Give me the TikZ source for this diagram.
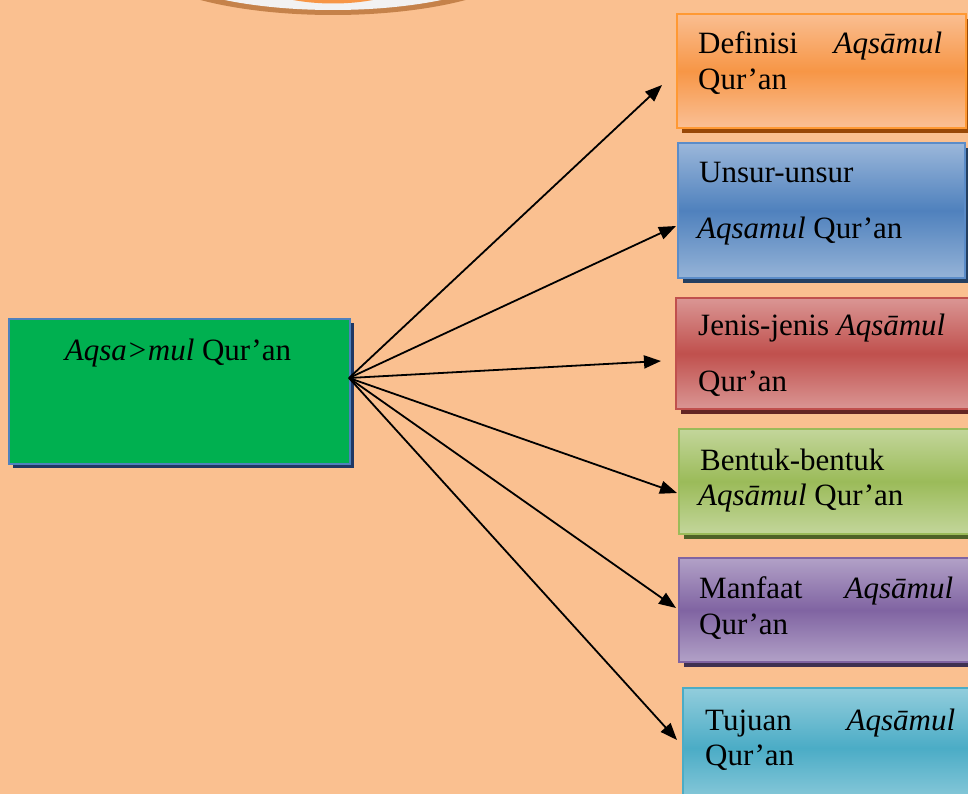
\documentclass[tikz,border=0pt]{standalone}
\usepackage{fontspec}
\setmainfont{Liberation Serif}
\usetikzlibrary{shadows,arrows.meta}

\definecolor{pagebg}{HTML}{FAC090}
\definecolor{ovalrim}{HTML}{C5824A}
\definecolor{ovalring}{HTML}{F2F2F2}
\definecolor{ovalcore}{HTML}{F79646}

\tikzset{
  topicbox/.style={rectangle, inner sep=0pt, line width=2pt, anchor=north west},
  orangebox/.style={topicbox, draw=orange!80!white, top color={rgb,255:red,250;green,190;blue,145},
    bottom color={rgb,255:red,250;green,192;blue,150}, middle color={rgb,255:red,247;green,150;blue,70},
    drop shadow={shadow xshift=5pt, shadow yshift=-5pt, fill={rgb,255:red,152;green,72;blue,7}, opacity=1}},
  bluebox/.style={topicbox, draw={rgb,255:red,91;green,140;blue,200}, top color={rgb,255:red,155;green,183;blue,218},
    bottom color={rgb,255:red,149;green,179;blue,215}, middle color={rgb,255:red,79;green,129;blue,189},
    drop shadow={shadow xshift=5pt, shadow yshift=-5pt, fill={rgb,255:red,36;green,63;blue,96}, opacity=1}},
  redbox/.style={topicbox, draw={rgb,255:red,192;green,80;blue,77}, top color={rgb,255:red,218;green,150;blue,148},
    bottom color={rgb,255:red,218;green,150;blue,148}, middle color={rgb,255:red,192;green,80;blue,77},
    drop shadow={shadow xshift=5pt, shadow yshift=-5pt, fill={rgb,255:red,99;green,37;blue,35}, opacity=1}},
  greenbox/.style={topicbox, draw={rgb,255:red,155;green,187;blue,89}, top color={rgb,255:red,195;green,214;blue,155},
    bottom color={rgb,255:red,195;green,214;blue,155}, middle color={rgb,255:red,155;green,187;blue,89},
    drop shadow={shadow xshift=5pt, shadow yshift=-5pt, fill={rgb,255:red,79;green,98;blue,40}, opacity=1}},
  purplebox/.style={topicbox, draw={rgb,255:red,128;green,100;blue,162}, top color={rgb,255:red,178;green,161;blue,199},
    bottom color={rgb,255:red,178;green,161;blue,199}, middle color={rgb,255:red,128;green,100;blue,162},
    drop shadow={shadow xshift=5pt, shadow yshift=-5pt, fill={rgb,255:red,63;green,49;blue,81}, opacity=1}},
  cyanbox/.style={topicbox, draw={rgb,255:red,75;green,172;blue,198}, top color={rgb,255:red,146;green,205;blue,220},
    bottom color={rgb,255:red,146;green,205;blue,220}, middle color={rgb,255:red,75;green,172;blue,198},
    drop shadow={shadow xshift=5pt, shadow yshift=-5pt, fill={rgb,255:red,32;green,88;blue,103}, opacity=1}},
  mainbox/.style={topicbox, fill={rgb,255:red,0;green,176;blue,80}, draw={rgb,255:red,79;green,129;blue,189},
    drop shadow={shadow xshift=4pt, shadow yshift=-4pt, fill={rgb,255:red,31;green,56;blue,100}, opacity=1}},
  line/.style={inner sep=0pt, anchor=base west},
  link/.style={line width=1.8pt, -{Triangle[length=17pt, width=13pt]}}
}

\begin{document}
\begin{tikzpicture}[x=1pt, y=-1pt, font=\fontsize{31}{37}\selectfont]
  \useasboundingbox (0,0) rectangle (968,794);
  \begin{scope}
    \clip (0,0) rectangle (968,794);
    \fill[pagebg] (0,0) rectangle (968,794);

    % title oval peeking in at the top edge
    \fill[ovalrim]  (333,-46) ellipse [x radius=202, y radius=61];
    \fill[ovalring] (333,-46) ellipse [x radius=190, y radius=56];
    \fill[ovalcore] (333,-46) ellipse [x radius=108, y radius=49.5];

    % central topic
    \node[mainbox, minimum width=341pt, minimum height=145pt] (main) at (8,318) {};
    \node[inner sep=0pt, anchor=base] (maintext) at (178,360) {\textit{Aqsa>mul} Qur’an};

    % sub-topic boxes
    \node[orangebox, minimum width=289pt, minimum height=114pt] (def) at (676,13) {};
    \node[bluebox,   minimum width=287pt, minimum height=135pt] (uns) at (677,142) {};
    \node[redbox,    minimum width=300pt, minimum height=111pt] (jen) at (675,297) {};
    \node[greenbox,  minimum width=300pt, minimum height=105pt] (ben) at (678,428) {};
    \node[purplebox, minimum width=300pt, minimum height=104pt] (man) at (678,557) {};
    \node[cyanbox,   minimum width=300pt, minimum height=120pt] (tuj) at (682,687) {};

    % box texts
    \node[line] (def1) at (698,54)  {\makebox[244pt][s]{Definisi\hfill\textit{Aqsāmul}}};
    \node[line] (def2) at (698,90)  {Qur’an};
    \node[line] (uns1) at (699,183) {Unsur-unsur};
    \node[line] (uns2) at (697,238) {\textit{Aqsamul} Qur’an};
    \node[line] (jen1) at (698,335) {Jenis-jenis \textit{Aqsāmul}};
    \node[line] (jen2) at (698,391) {Qur’an};
    \node[line] (ben1) at (700,470) {Bentuk-bentuk};
    \node[line] (ben2) at (698,505) {\textit{Aqsāmul} Qur’an};
    \node[line] (man1) at (699,598) {\makebox[254pt][s]{Manfaat\hfill\textit{Aqsāmul}}};
    \node[line] (man2) at (699,634) {Qur’an};
    \node[line] (tuj1) at (705,730) {\makebox[250pt][s]{Tujuan\hfill\textit{Aqsāmul}}};
    \node[line] (tuj2) at (705,765) {Qur’an};

    % connectors fanning out from the central box
    \coordinate (hub) at (349,378);
    \coordinate (tdef) at (662,85);
    \coordinate (tuns) at (676,226);
    \coordinate (tjen) at (661,361);
    \coordinate (tben) at (677,493);
    \coordinate (tman) at (676,608);
    \coordinate (ttuj) at (677,740);
    \foreach \t in {tdef,tuns,tjen,tben,tman,ttuj}
      \draw[link] (hub) -- (\t);
  \end{scope}
\end{tikzpicture}
\end{document}
